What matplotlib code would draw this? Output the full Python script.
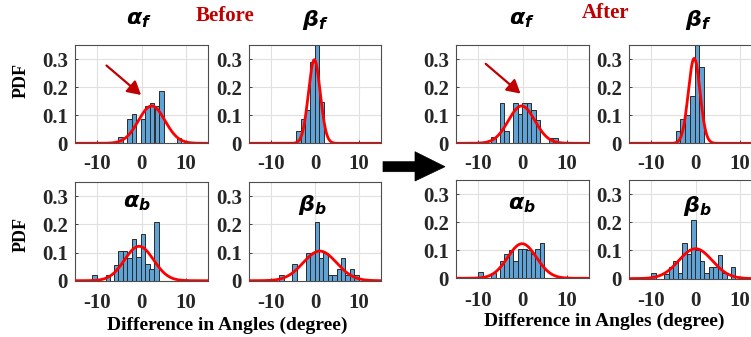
import numpy as np
import matplotlib
matplotlib.use("Agg")
import matplotlib.pyplot as plt
from matplotlib.patches import Polygon

plt.rcParams['axes.unicode_minus'] = False
plt.rcParams['mathtext.fontset'] = 'custom'
plt.rcParams['mathtext.it'] = 'DejaVu Sans:bold:italic'
plt.rcParams['mathtext.rm'] = 'DejaVu Sans:bold'
plt.rcParams['mathtext.bf'] = 'DejaVu Sans:bold'

# ---------------- data ----------------
bin_width = 1.02

# Before
before_af_centers = [-4.75, -2.7, -1.65, 0.35, 1.4, 2.4, 3.45, 4.5, 8.5]
before_af_heights = [0.021, 0.085, 0.106, 0.085, 0.133, 0.145, 0.133, 0.186, 0.02]
before_af_mu, before_af_sigma = 2.3, 3.0

before_bf_centers = [-3.7, -2.7, -1.65, -0.6, 0.45, 1.5]
before_bf_heights = [0.043, 0.085, 0.12, 0.29, 0.42, 0.147]
before_bf_mu, before_bf_sigma = -0.15, 1.34

before_ab_centers = [-10.6, -7.6, -5.7, -4.7, -3.7, -2.7, -1.7, -0.7, 0.3, 1.3, 2.3, 3.4]
before_ab_heights = [0.02, 0.02, 0.055, 0.105, 0.105, 0.08, 0.147, 0.085, 0.167, 0.06, 0.04, 0.208]
before_ab_mu, before_ab_sigma = -0.55, 3.27

before_bb_centers = [-7.6, -4.7, -1.6, -0.6, 0.4, 1.4, 2.4, 3.4, 4.4, 5.4, 6.4, 7.4, 8.4, 9.4]
before_bb_heights = [0.02, 0.06, 0.1, 0.1, 0.208, 0.08, 0.1, 0.02, 0.02, 0.04, 0.08, 0.02, 0.04, 0.02]
before_bb_mu, before_bb_sigma = 1.1, 3.8

# After
after_af_centers = [-6.6, -4.6, -3.6, -1.55, -0.55, 0.5, 1.5, 2.5, 3.5, 6.4, 7.4]
after_af_heights = [0.021, 0.145, 0.044, 0.145, 0.106, 0.145, 0.145, 0.118, 0.082, 0.02, 0.02]
after_af_mu, after_af_sigma = -0.2, 3.0

after_bf_centers = [-3.9, -2.9, -1.85, -0.7, 0.33, 1.35]
after_bf_heights = [0.044, 0.085, 0.1, 0.167, 0.42, 0.273]
after_bf_mu, after_bf_sigma = -0.3, 1.32

after_ab_centers = [-9.5, -6.6, -4.6, -3.6, -2.6, -1.6, -0.6, 0.4, 1.4, 2.4, 3.4, 4.4]
after_ab_heights = [0.021, 0.02, 0.062, 0.085, 0.1, 0.06, 0.106, 0.106, 0.1, 0.085, 0.106, 0.126]
after_ab_mu, after_ab_sigma = -0.1, 3.24

after_bb_centers = [-9.5, -6.5, -5.5, -4.5, -3.5, -2.5, -1.5, -0.5, 0.5, 1.5, 2.5, 3.5, 4.5, 5.5, 6.5, 8.5]
after_bb_heights = [0.02, 0.015, 0.04, 0.062, 0.02, 0.126, 0.086, 0.208, 0.1, 0.062, 0.02, 0.04, 0.04, 0.083, 0.02, 0.04]
after_bb_mu, after_bb_sigma = 0.0, 3.76

x_ticks = [-10, 0, 10]
x_tick_labels = ['-10', '0', '10']
y_ticks = [0, 0.1, 0.2, 0.3]
y_tick_labels = ['0', '0.1', '0.2', '0.3']

# ---------------- figure ----------------
W, H = 751, 337
fig = plt.figure(figsize=(W / 100, H / 100), dpi=100)

SERIF = 'Liberation Serif'
TXT = '#262626'
BAR = '#5FA3D6'
DARKRED = '#C00000'


def add_ax(l, t, r, b):
    return fig.add_axes([l / W, 1 - b / H, (r - l) / W, (b - t) / H])


def panel(l, t, r, b, centers, heights, mu, sigma, pad_x):
    ax = add_ax(l, t, r, b)
    ax.set_axisbelow(True)
    ax.grid(True, color='#e0e0e0', lw=0.8)
    ax.bar(centers, heights, width=bin_width, color=BAR,
           edgecolor='#2a2a2a', linewidth=0.7, zorder=2)
    xs = np.linspace(-15, 15, 600)
    ys = np.exp(-0.5 * ((xs - mu) / sigma) ** 2) / (sigma * np.sqrt(2 * np.pi))
    ax.plot(xs, ys, color='red', lw=2.0, zorder=3)
    ax.set_xlim(-15, 15)
    ax.set_ylim(0, 0.35)
    ax.set_xticks(x_ticks)
    ax.set_xticklabels(x_tick_labels)
    ax.set_yticks(y_ticks)
    ax.set_yticklabels(y_tick_labels)
    for lab in ax.get_xticklabels() + ax.get_yticklabels():
        lab.set_fontfamily(SERIF)
        lab.set_fontweight('bold')
        lab.set_fontsize(15)
        lab.set_color(TXT)
    ax.tick_params(axis='both', direction='in', length=2.5, width=0.6, color=TXT)
    ax.tick_params(axis='x', pad=pad_x)
    ax.tick_params(axis='y', pad=5)
    for s in ax.spines.values():
        s.set_color('#4d4d4d')
        s.set_linewidth(0.8)
    return ax


ax1 = panel(75, 45, 208, 143.3, before_af_centers, before_af_heights, before_af_mu, before_af_sigma, 8)
ax2 = panel(249, 45, 381, 143.3, before_bf_centers, before_bf_heights, before_bf_mu, before_bf_sigma, 8)
ax3 = panel(75, 182, 208, 280.7, before_ab_centers, before_ab_heights, before_ab_mu, before_ab_sigma, 9)
ax4 = panel(249, 182, 381, 280.7, before_bb_centers, before_bb_heights, before_bb_mu, before_bb_sigma, 9)

ax5 = panel(456, 45, 589, 143.3, after_af_centers, after_af_heights, after_af_mu, after_af_sigma, 8)
ax6 = panel(629, 45, 762, 143.3, after_bf_centers, after_bf_heights, after_bf_mu, after_bf_sigma, 8)
ax7 = panel(456, 180, 589, 278.3, after_ab_centers, after_ab_heights, after_ab_mu, after_ab_sigma, 9)
ax8 = panel(629, 180, 762, 278.6, after_bb_centers, after_bb_heights, after_bb_mu, after_bb_sigma, 9)

# red arrows pointing at the fitted peak
arrow_kw = dict(arrowstyle='-|>,head_length=0.8,head_width=0.45', color='#C00000', lw=1.6,
                shrinkA=0, shrinkB=0)
ax1.annotate('', xy=(-0.1, 0.172), xytext=(-7.9, 0.277), arrowprops=arrow_kw)
ax5.annotate('', xy=(-0.45, 0.177), xytext=(-8.3, 0.283), arrowprops=arrow_kw)


def ftext(px, py, s, **kw):
    fig.text(px / W, 1 - py / H, s, ha='center', va='center', **kw)


title_kw = dict(fontsize=16, color='black')
ftext(139, 20, r'$\alpha_f$', **title_kw)
ftext(315, 20, r'$\beta_f$', **title_kw)
ftext(522, 20, r'$\alpha_f$', **title_kw)
ftext(698, 20, r'$\beta_f$', **title_kw)
ftext(137, 203, r'$\alpha_b$', **title_kw)
ftext(312, 205, r'$\beta_b$', **title_kw)
ftext(522, 205, r'$\alpha_b$', **title_kw)
ftext(697, 206, r'$\beta_b$', **title_kw)

ftext(225, 16, 'Before', fontsize=15, fontweight='bold', family=SERIF, color=DARKRED)
ftext(606, 13, 'After', fontsize=15, fontweight='bold', family=SERIF, color=DARKRED)

ftext(21, 81, 'PDF', fontsize=13, fontweight='bold', family=SERIF, color='black', rotation=90)
ftext(21, 234, 'PDF', fontsize=13, fontweight='bold', family=SERIF, color='black', rotation=90)

ftext(227, 325, 'Difference in Angles (degree)', fontsize=14, fontweight='bold', family=SERIF, color='black')
ftext(604, 321, 'Difference in Angles (degree)', fontsize=14, fontweight='bold', family=SERIF, color='black')

# big black arrow between the two groups (pixel geometry)
arrow_px = [(383, 161.7), (415, 161.7), (415, 151.7), (445, 166.7),
            (415, 181.0), (415, 171.7), (383, 171.7)]
verts = [(x / W, 1 - y / H) for x, y in arrow_px]
fig.add_artist(Polygon(verts, closed=True, transform=fig.transFigure,
                       facecolor='black', edgecolor='black', lw=0.5))

fig.savefig('out.png', dpi=100)
